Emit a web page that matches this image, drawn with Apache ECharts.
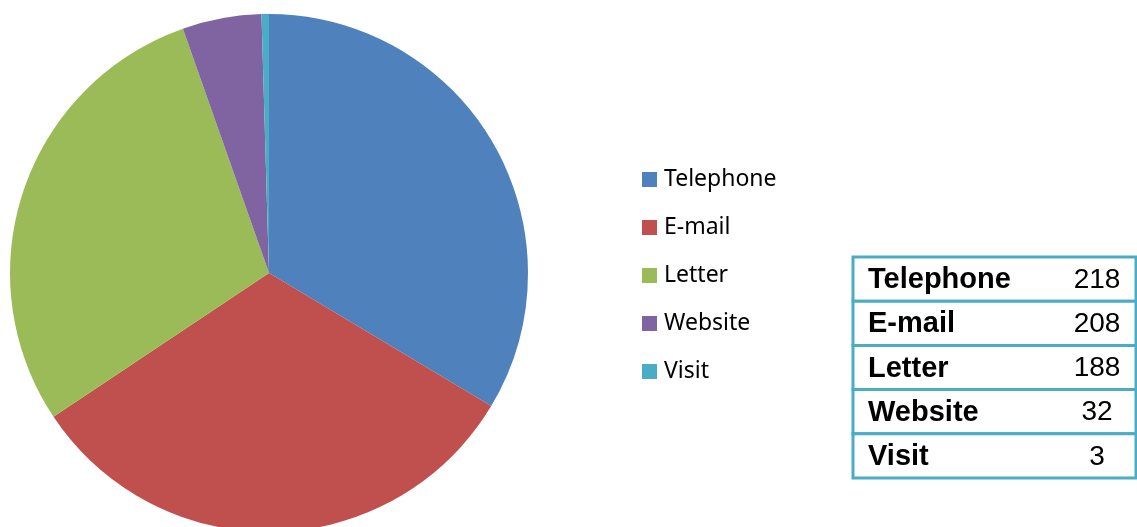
<!DOCTYPE html>
<html>
<head>
<meta charset="utf-8">
<script src="https://cdn.jsdelivr.net/npm/echarts@6/dist/echarts.min.js"></script>
<style>
  html, body { margin: 0; padding: 0; background: #fff; }
  #chart { width: 1137px; height: 527px; }
</style>
</head>
<body>
<div id="chart"></div>
<script>
// Contact channels and counts
const categories = ['Telephone', 'E-mail', 'Letter', 'Website', 'Visit'];
const counts = [218, 208, 188, 32, 3];
const colors = ['#4F81BD', '#C0504D', '#9BBB59', '#8064A2', '#4BACC6'];

const chart = echarts.init(document.getElementById('chart'));

// Summary table to the right of the legend
const tableLeft = 853, tableRight = 1136, tableTop = 257, rowH = 44.2;
const tableBorder = '#4BACC6';
const tableGraphics = [];
categories.forEach((name, i) => {
  const y = tableTop + i * rowH;
  tableGraphics.push({
    type: 'rect',
    shape: { x: tableLeft, y: y, width: tableRight - tableLeft, height: rowH },
    style: { fill: '#fff', stroke: tableBorder, lineWidth: 3 }
  });
  tableGraphics.push({
    type: 'text',
    x: 868, y: y + rowH / 2 + 1,
    style: {
      text: name, fill: '#000',
      font: 'bold 29px "Liberation Sans", Arial, sans-serif',
      verticalAlign: 'middle', align: 'left'
    }
  });
  tableGraphics.push({
    type: 'text',
    x: 1097, y: y + rowH / 2 + 1,
    style: {
      text: String(counts[i]), fill: '#000',
      font: '28px "Liberation Sans", Arial, sans-serif',
      verticalAlign: 'middle', align: 'center'
    }
  });
});

chart.setOption({
  animation: false,
  color: colors,
  legend: {
    orient: 'vertical',
    left: 642,
    top: 168,
    padding: 0,
    icon: 'rect',
    itemWidth: 15,
    itemHeight: 15,
    itemGap: 25,
    textStyle: {
      fontFamily: '"Noto Sans", sans-serif',
      fontSize: 23,
      lineHeight: 22,
      color: '#000',
      padding: [0, 0, 0, 2]
    },
    data: categories
  },
  series: [{
    type: 'pie',
    center: [269, 273],
    radius: 259,
    startAngle: 90,
    clockwise: true,
    label: { show: false },
    labelLine: { show: false },
    emphasis: { disabled: true },
    itemStyle: { borderWidth: 0 },
    data: categories.map((name, i) => ({ name: name, value: counts[i] }))
  }],
  graphic: tableGraphics
});
</script>
</body>
</html>
